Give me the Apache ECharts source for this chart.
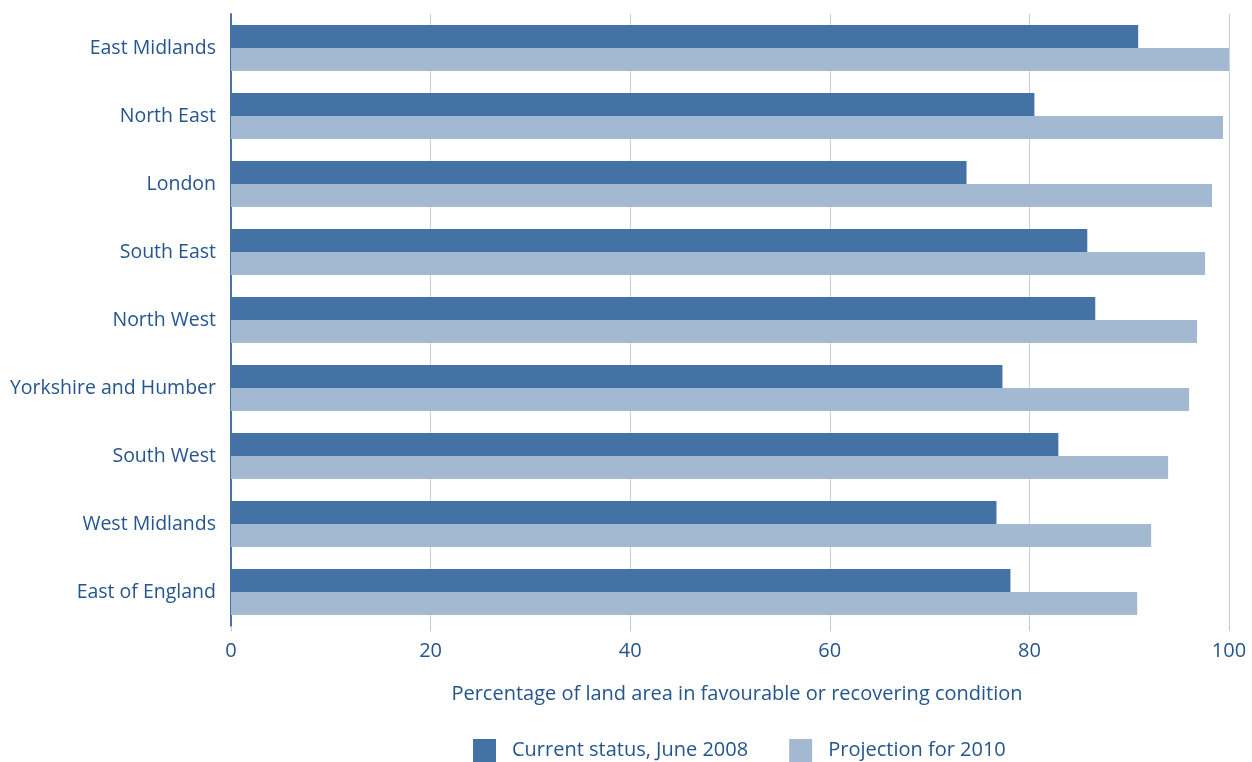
<!DOCTYPE html>
<html>
<head>
<meta charset="utf-8">
<script src="https://cdn.jsdelivr.net/npm/echarts@6/dist/echarts.min.js"></script>
<style>
html,body{margin:0;padding:0;background:#fff;}
#chart{width:1252px;height:762px;}
</style>
</head>
<body>
<div id="chart"></div>
<script>
var categories = ["East Midlands","North East","London","South East","North West","Yorkshire and Humber","South West","West Midlands","East of England"];
var current2008 = [90.9, 80.5, 73.7, 85.8, 86.6, 77.3, 82.9, 76.7, 78.1];
var projection2010 = [100.0, 99.4, 98.3, 97.6, 96.8, 96.0, 93.9, 92.2, 90.8];
var seriesNames = ["Current status, June 2008", "Projection for 2010"];
var xTicks = [0, 20, 40, 60, 80, 100];

var textColor = "#25558f";
var fontFam = "'Open Sans', Lato, sans-serif";
var chart = echarts.init(document.getElementById('chart'));
chart.setOption({
  animation: false,
  grid: {left: 231, right: 23, top: 14, bottom: 136, containLabel: false},
  legend: {
    data: seriesNames,
    bottom: -5,
    left: 468,
    itemWidth: 23,
    itemHeight: 23,
    itemGap: 41,
    icon: 'rect',
    textStyle: {color: textColor, fontSize: 20, fontFamily: fontFam, padding: [0,0,0,11]}
  },
  xAxis: {
    type: 'value',
    min: 0, max: 100, interval: 20,
    name: "Percentage of land area in favourable or recovering condition",
    nameLocation: 'middle',
    nameGap: 58,
    nameTextStyle: {color: textColor, fontSize: 20, fontFamily: fontFam, padding:[0,0,0,14]},
    axisLine: {show: false},
    axisTick: {show: true, length: 5, lineStyle: {color: '#b8c9dc', width: 1}},
    axisLabel: {color: textColor, fontSize: 20, fontFamily: fontFam, margin: 15,
      formatter: function(v){ return xTicks.indexOf(v) >= 0 ? String(v) : ''; }},
    splitLine: {show: true, lineStyle: {color: '#c3d1e2', width: 1}}
  },
  yAxis: {
    type: 'category',
    data: categories,
    inverse: true,
    axisLine: {show: true, lineStyle: {color: '#4a74a6', width: 2}},
    axisTick: {show: false},
    axisLabel: {color: textColor, fontSize: 19.5, fontFamily: fontFam, margin: 15, padding: [0,0,8,0]}
  },
  series: [
    {name: seriesNames[0], type: 'bar', data: current2008, barGap: '0%', barCategoryGap: '32%',
     itemStyle: {color: '#4572a5'}},
    {name: seriesNames[1], type: 'bar', data: projection2010, barGap: '0%', barCategoryGap: '32%',
     itemStyle: {color: '#a3b9d2'}}
  ]
});
</script>
</body>
</html>
